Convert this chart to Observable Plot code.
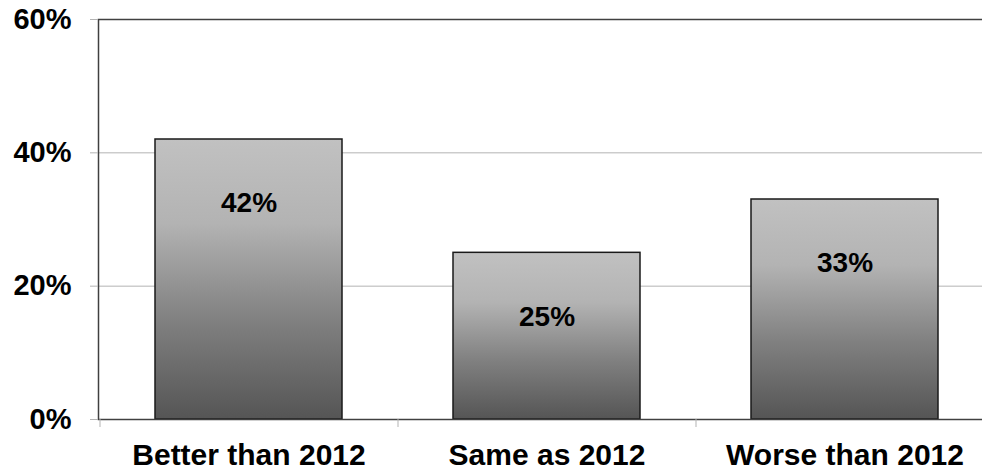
<!DOCTYPE html>
<html>
<head>
<meta charset="utf-8">
<script src="https://cdn.jsdelivr.net/npm/d3@7"></script>
<script src="https://cdn.jsdelivr.net/npm/@observablehq/plot@0.6"></script>
<style>
  html, body { margin: 0; padding: 0; background: #fff; overflow: hidden; }
  #chart svg { display: block; }
</style>
</head>
<body>
<div id="chart"></div>
<script>
const categories = ["Better than 2012", "Same as 2012", "Worse than 2012"];
const values = [0.42, 0.25, 0.33];
const valueLabels = ["42%", "25%", "33%"];
const yTicks = [0, 0.2, 0.4, 0.6];
const gridTicks = [0.2, 0.4];

const data = categories.map((c, i) => ({cat: c, value: values[i], label: valueLabels[i]}));
const font = "Liberation Sans, Arial, Helvetica, sans-serif";

const chart = Plot.plot({
  width: 982,
  height: 471,
  marginLeft: 98,
  marginRight: -12,
  marginTop: 19,
  marginBottom: 52,
  style: {fontFamily: font, background: "#fff", overflow: "hidden"},
  x: {domain: categories, paddingInner: 0.3725, paddingOuter: 0.186},
  y: {domain: [0, 0.6]},
  marks: [
    Plot.ruleY(gridTicks, {stroke: "#b3b3b3", strokeWidth: 1}),
    Plot.barY(data, {x: "cat", y: "value", fill: "url(#barGrad)", stroke: "#1a1a1a", strokeWidth: 1.5}),
    Plot.frame({stroke: "#404040", strokeWidth: 1.5}),
    Plot.ruleX(categories, {x: d => d, dx: -149, y1: 0, y2: -0.012, stroke: "#b3b3b3", strokeWidth: 1}),
    Plot.axisY({ticks: yTicks, tickFormat: d => Math.round(d * 100) + "%", tickSize: 8, tickPadding: 19,
      stroke: "#b3b3b3", fill: "#000", fontSize: 29, fontWeight: "bold", label: null}),
    Plot.axisX({tickSize: 0, tickPadding: 24, fill: "#000", fontSize: 30, fontWeight: "bold", label: null}),
    Plot.text(data, {x: "cat", y: "value", text: "label", dy: 64, fontSize: 28, fontWeight: "bold", fill: "#000"})
  ]
});

d3.select(chart).insert("defs", ":first-child").html(`
  <linearGradient id="barGrad" x1="0" y1="0" x2="0" y2="1">
    <stop offset="0" stop-color="#c1c1c1"/>
    <stop offset="0.3" stop-color="#b3b3b3"/>
    <stop offset="0.65" stop-color="#808080"/>
    <stop offset="1" stop-color="#555555"/>
  </linearGradient>`);

document.getElementById("chart").appendChild(chart);
</script>
</body>
</html>
